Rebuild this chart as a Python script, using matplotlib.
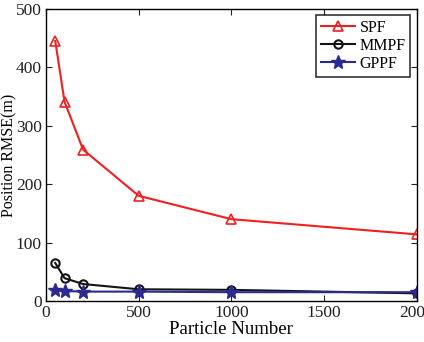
import matplotlib
matplotlib.use("Agg")
import matplotlib.pyplot as plt

particles = [50, 100, 200, 500, 1000, 2000]
spf = [445, 341, 259, 180, 140, 114]
mmpf = [65, 39, 29, 20, 19, 13]
gppf = [18, 17, 16, 16, 15, 15]

plt.rcParams['font.family'] = ['Liberation Serif', 'DejaVu Serif']

fig = plt.figure(figsize=(4.24, 3.42), dpi=100)
ax = fig.add_axes([0.1085, 0.12, 0.8745, 0.854])

ax.plot(particles, spf, color='#f02020', lw=1.5, marker='^', ms=7,
        mfc='none', mec='#f02020', mew=1.2, label='SPF')
ax.plot(particles, mmpf, color='#141414', lw=1.5, marker='o', ms=6,
        mfc='none', mec='#141414', mew=1.5, label='MMPF')
ax.plot(particles, gppf, color='#2a2a90', lw=1.5, marker='*', ms=10,
        mfc='#2a2a90', mec='#2a2a90', label='GPPF')

ax.set_xlim(0, 2000)
ax.set_ylim(0, 500)
ax.set_xticks([0, 500, 1000, 1500, 2000])
ax.set_yticks([0, 100, 200, 300, 400, 500])
ax.tick_params(direction='in', top=True, right=True, labelsize=12.5,
               length=4, width=0.8, colors='#222222', pad=3)
for s in ax.spines.values():
    s.set_linewidth(1.0)
ax.set_xlabel('Particle Number', fontsize=13.5, labelpad=0)
ax.set_ylabel('Position RMSE(m)', fontsize=11.5)
ax.yaxis.set_label_coords(-0.078, 0.5)

leg = ax.legend(loc='upper right', fontsize=11.5, frameon=True, fancybox=False,
                edgecolor='black', borderaxespad=0.4, handlelength=2.1,
                labelspacing=0.12, borderpad=0.3, handletextpad=0.3)
leg.get_frame().set_linewidth(1.2)

fig.savefig('out.png', dpi=100)
